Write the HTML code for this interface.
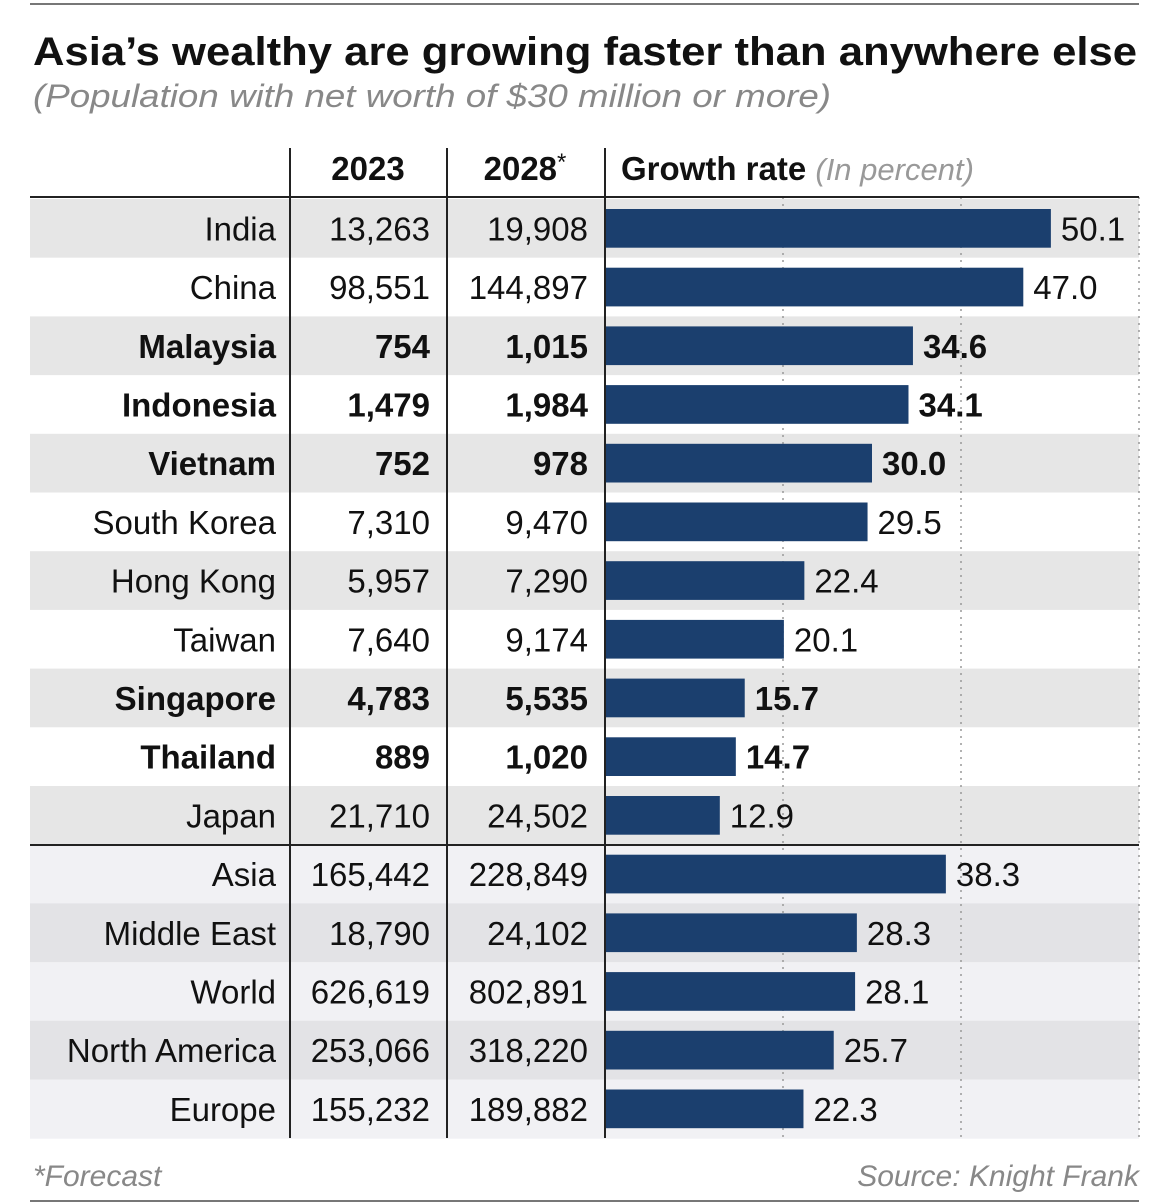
<!DOCTYPE html>
<html><head><meta charset="utf-8">
<style>
html,body{margin:0;padding:0;background:#fff;}
svg{display:block;font-family:"Liberation Sans",sans-serif;}
</style></head>
<body>
<svg id="chart" width="1170" height="1204" viewBox="0 0 1170 1204" xmlns="http://www.w3.org/2000/svg">
<line x1="30" y1="4" x2="1139" y2="4" stroke="#777" stroke-width="2"/>
<text x="33" y="65" font-size="40" font-weight="bold" fill="#111" textLength="1104" lengthAdjust="spacingAndGlyphs">Asia’s wealthy are growing faster than anywhere else</text>
<text x="33" y="107" font-size="32" font-style="italic" fill="#888" textLength="798" lengthAdjust="spacingAndGlyphs">(Population with net worth of $30 million or more)</text>
<g id="bands"></g>
<g id="grid"></g>
<g id="rows"></g>
<text x="368" y="180" font-size="33" font-weight="bold" text-anchor="middle" fill="#111">2023</text>
<text x="525" y="180" font-size="33" font-weight="bold" text-anchor="middle" fill="#111">2028<tspan font-weight="normal" font-size="24" dy="-10">*</tspan></text>
<text x="621" y="180" font-size="33" fill="#111"><tspan font-weight="bold">Growth rate</tspan> <tspan font-style="italic" fill="#999" font-size="31">(In percent)</tspan></text>
<line x1="30" y1="197" x2="1139" y2="197" stroke="#222" stroke-width="2"/>
<line x1="30" y1="845" x2="1139" y2="845" stroke="#222" stroke-width="2"/>
<line x1="290" y1="148" x2="290" y2="1138" stroke="#222" stroke-width="2"/>
<line x1="447" y1="148" x2="447" y2="1138" stroke="#222" stroke-width="2"/>
<line x1="605" y1="148" x2="605" y2="1138" stroke="#222" stroke-width="2"/>
<text x="33" y="1186" font-size="30" font-style="italic" fill="#888">*Forecast</text>
<text x="1139" y="1186" font-size="30" font-style="italic" fill="#888" text-anchor="end">Source: Knight Frank</text>
<line x1="30" y1="1201" x2="1139" y2="1201" stroke="#777" stroke-width="2"/>
</svg>
<script>
const countries = ["India","China","Malaysia","Indonesia","Vietnam","South Korea","Hong Kong","Taiwan","Singapore","Thailand","Japan","Asia","Middle East","World","North America","Europe"];
const pop2023 = ["13,263","98,551","754","1,479","752","7,310","5,957","7,640","4,783","889","21,710","165,442","18,790","626,619","253,066","155,232"];
const pop2028 = ["19,908","144,897","1,015","1,984","978","9,470","7,290","9,174","5,535","1,020","24,502","228,849","24,102","802,891","318,220","189,882"];
const growth = [50.1,47.0,34.6,34.1,30.0,29.5,22.4,20.1,15.7,14.7,12.9,38.3,28.3,28.1,25.7,22.3];
const boldRows = ["Malaysia","Indonesia","Vietnam","Singapore","Thailand"];
const gridTicks = [20,40,60];

const NS="http://www.w3.org/2000/svg";
const x0=605, xMax=60, x1=1139;
const xs=v=>x0+(v/xMax)*(x1-x0);
const top0=199, rowH=58.7;
const bands=document.getElementById('bands'), grid=document.getElementById('grid'), rows=document.getElementById('rows');
function mk(tag,attrs,parent){const e=document.createElementNS(NS,tag);for(const k in attrs)e.setAttribute(k,attrs[k]);parent.appendChild(e);return e;}

countries.forEach((c,i)=>{
  const y=top0+i*rowH;
  const region=i>=11;
  const shaded=region?(i%2===0):(i%2===0);
  let fill;
  if(region) fill = (i%2===1)?'#f1f1f4':'#e3e3e6';
  else fill = shaded?'#e6e6e6':'#ffffff';
  const b=mk('rect',{x:30,y:y,width:1109,height:rowH+0.5,fill:fill},bands);
  
  
});
gridTicks.forEach(t=>{
  const l=mk('line',{x1:xs(t),x2:xs(t),y1:197,y2:1138,stroke:'#999','stroke-width':1.5,'stroke-dasharray':'2 5'},grid);
  
  
});
countries.forEach((c,i)=>{
  const y=top0+i*rowH;
  const bold=boldRows.includes(c);
  const fw=bold?'bold':'normal';
  const base=y+rowH/2+12;
  const g=mk('g',{},rows);
  
  
  const t1=mk('text',{x:276,y:base,'font-size':33,'font-weight':fw,'text-anchor':'end',fill:'#111'},g);
  t1.textContent=c;
  
  
  const t2=mk('text',{x:430,y:base,'font-size':33,'font-weight':fw,'text-anchor':'end',fill:'#111'},g);
  t2.textContent=pop2023[i];
  
  
  const t3=mk('text',{x:588,y:base,'font-size':33,'font-weight':fw,'text-anchor':'end',fill:'#111'},g);
  t3.textContent=pop2028[i];
  
  
  const r=mk('rect',{x:x0,y:y+10,width:xs(growth[i])-x0,height:rowH-20,fill:'#1b3f6e'},g);
  
  
  const t4=mk('text',{x:xs(growth[i])+10,y:base,'font-size':33,'font-weight':fw,fill:'#111'},g);
  t4.textContent=growth[i].toFixed(1);
  
  
});
</script>
</body></html>
